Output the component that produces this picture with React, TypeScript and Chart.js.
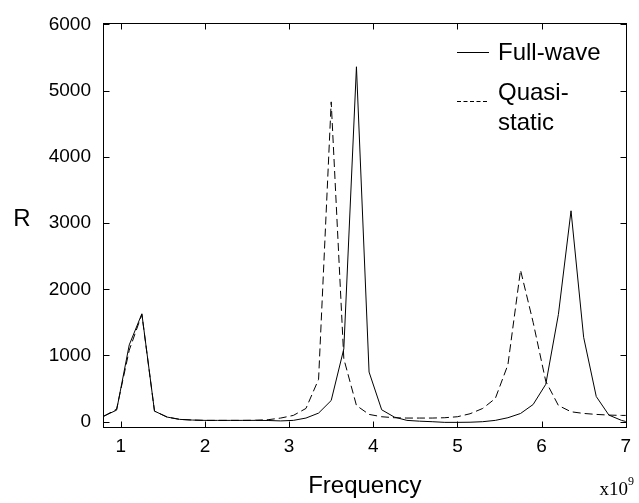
import React, { useEffect, useRef } from "react";
import { Chart, registerables } from "chart.js";

Chart.register(...registerables);

// Frequency samples (x 10^9)
const freq = [
  0.8, 0.95, 1.1, 1.25, 1.4, 1.55, 1.7, 1.85, 2.0, 2.15, 2.3, 2.45, 2.6, 2.75,
  2.9, 3.05, 3.2, 3.35, 3.5, 3.65, 3.8, 3.95, 4.1, 4.25, 4.4, 4.55, 4.7, 4.85,
  5.0, 5.15, 5.3, 5.45, 5.6, 5.75, 5.9, 6.05, 6.2, 6.35, 6.5, 6.65, 6.8, 6.95, 7.1,
];

const fullWave = [
  85, 175, 1160, 1630, 160, 70, 35, 25, 20, 20, 20, 20, 20, 18,
  12, 20, 55, 130, 320, 1100, 5360, 750, 180, 70, 20, 8, 0, -10,
  -10, -8, 0, 20, 60, 124, 260, 565, 1620, 3185, 1275, 380, 100, 20, -30,
];

const quasiStatic = [
  85, 190, 1080, 1620, 160, 70, 35, 25, 20, 20, 20, 20, 22, 30,
  55, 95, 200, 640, 4830, 950, 245, 110, 75, 60, 55, 55, 55, 60,
  75, 120, 200, 350, 860, 2290, 1500, 610, 245, 150, 125, 110, 100, 95, 95,
];

const xTicks = [1, 2, 3, 4, 5, 6, 7];
const yTicks = [0, 1000, 2000, 3000, 4000, 5000, 6000];

const seriesNames = ["Full-wave", "Quasi-static"];
const legendLines = [["Full-wave"], ["Quasi-", "static"]];

const SANS = "'Liberation Sans', Arial, Helvetica, sans-serif";
const SERIF = "'Liberation Serif', 'Times New Roman', serif";

const framePlugin = {
  id: "frame",
  afterDraw(chart: any) {
    const { ctx, chartArea } = chart;
    const { left, right, top, bottom } = chartArea;
    const xs = chart.scales.x;
    const ys = chart.scales.y;
    ctx.save();
    ctx.strokeStyle = "#000";
    ctx.lineWidth = 1;
    ctx.setLineDash([]);
    const L = Math.round(left) - 0.5;
    const R = Math.round(right) + 0.5;
    const T = Math.round(top) - 0.5;
    const B = Math.round(bottom) + 0.5;
    ctx.strokeRect(L, T, R - L, B - T);
    const tl = 6;
    ctx.beginPath();
    for (const v of yTicks) {
      const y = Math.round(ys.getPixelForValue(v)) + 0.5;
      ctx.moveTo(L, y);
      ctx.lineTo(L + tl, y);
      ctx.moveTo(R, y);
      ctx.lineTo(R - tl, y);
    }
    for (const v of xTicks) {
      const x = Math.round(xs.getPixelForValue(v)) + 0.5;
      ctx.moveTo(x, B);
      ctx.lineTo(x, B - tl);
      ctx.moveTo(x, T);
      ctx.lineTo(x, T + tl);
    }
    ctx.stroke();

    // axis titles
    ctx.fillStyle = "#000";
    ctx.font = `24px ${SANS}`;
    ctx.textAlign = "center";
    ctx.textBaseline = "middle";
    ctx.fillText("R", 22, 219);
    ctx.fillText("Frequency", (left + right) / 2, 486);

    // exponent label
    ctx.font = `19px ${SERIF}`;
    ctx.textAlign = "right";
    ctx.textBaseline = "alphabetic";
    ctx.fillText("x10", 628, 495);
    ctx.font = `12px ${SERIF}`;
    ctx.textAlign = "left";
    ctx.fillText("9", 628, 485);

    // legend
    const sx0 = 457;
    const sx1 = 489;
    ctx.font = `24px ${SANS}`;
    ctx.textAlign = "left";
    ctx.textBaseline = "alphabetic";
    ctx.strokeStyle = "#000";
    ctx.lineWidth = 1;
    ctx.beginPath();
    ctx.moveTo(sx0, 52.5);
    ctx.lineTo(sx1, 52.5);
    ctx.stroke();
    ctx.fillText(legendLines[0][0], 498, 60);
    ctx.setLineDash([4, 2.5]);
    ctx.beginPath();
    ctx.moveTo(sx0, 101.5);
    ctx.lineTo(sx1, 101.5);
    ctx.stroke();
    ctx.setLineDash([]);
    ctx.fillText(legendLines[1][0], 498, 100);
    ctx.fillText(legendLines[1][1], 498, 130);
    ctx.restore();
  },
};

export default function App() {
  const ref = useRef<HTMLCanvasElement | null>(null);
  useEffect(() => {
    if (!ref.current) return;
    const chart = new Chart(ref.current, {
      type: "line",
      data: {
        datasets: [
          {
            label: seriesNames[0],
            data: freq.map((f, i) => ({ x: f, y: fullWave[i] })),
            borderColor: "#000",
            borderWidth: 1,
            pointRadius: 0,
            tension: 0,
            fill: false,
          },
          {
            label: seriesNames[1],
            data: freq.map((f, i) => ({ x: f, y: quasiStatic[i] })),
            borderColor: "#000",
            borderWidth: 1,
            borderDash: [8, 4],
            pointRadius: 0,
            tension: 0,
            fill: false,
          },
        ],
      },
      options: {
        animation: false,
        responsive: true,
        maintainAspectRatio: false,
        layout: { padding: { left: 0, top: 13, right: 10, bottom: 0 } },
        plugins: { legend: { display: false }, tooltip: { enabled: false } },
        scales: {
          x: {
            type: "linear",
            min: 0.8,
            max: 7,
            grid: { display: false, drawTicks: false },
            border: { display: false },
            ticks: {
              color: "#000",
              font: { family: SANS, size: 19 },
              padding: 8,
              autoSkip: false,
              maxRotation: 0,
              callback: (v: any) => String(v),
            },
            afterBuildTicks: (s: any) => {
              s.ticks = xTicks.map((v) => ({ value: v }));
            },
            afterFit: (s: any) => {
              s.height = 76;
            },
          },
          y: {
            type: "linear",
            min: -80,
            max: 6000,
            grid: { display: false, drawTicks: false },
            border: { display: false },
            ticks: {
              color: "#000",
              font: { family: SANS, size: 19 },
              padding: 13,
              callback: (v: any) => String(v),
            },
            afterBuildTicks: (s: any) => {
              s.ticks = yTicks.map((v) => ({ value: v }));
            },
            afterFit: (s: any) => {
              s.width = 104;
            },
          },
        },
      },
      plugins: [framePlugin],
    });
    return () => chart.destroy();
  }, []);
  return (
    <div style={{ position: "absolute", left: 0, top: 0, width: 639, height: 503, background: "#fff" }}>
      <canvas ref={ref} />
    </div>
  );
}
